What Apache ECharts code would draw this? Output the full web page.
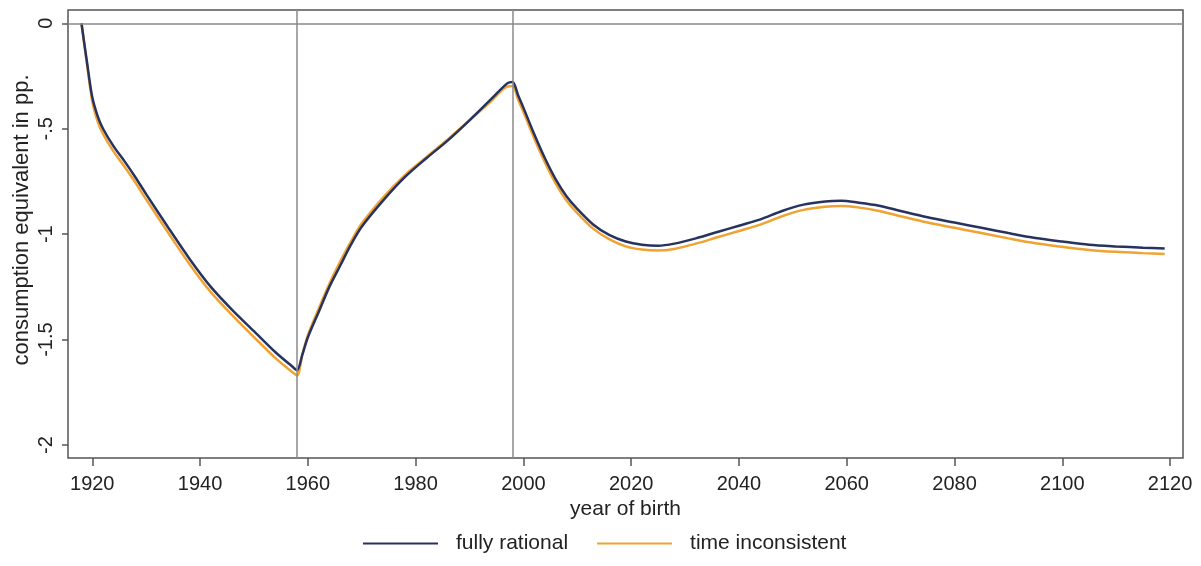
<!DOCTYPE html>
<html>
<head>
<meta charset="utf-8">
<script src="https://cdn.jsdelivr.net/npm/echarts@6/dist/echarts.min.js"></script>
<style>html,body{margin:0;padding:0;background:#fff;}#c{width:1201px;height:566px;}</style>
</head>
<body>
<div id="c"></div>
<script>
const years = [1918,1919,1920,1921,1922,1924,1926,1928,1930,1934,1938,1942,1946,1950,1954,1957,1958,
  1959,1960,1962,1964,1966,1968,1970,1974,1978,1982,1986,1990,1994,1997,1998,
  1999,2000,2002,2004,2006,2008,2010,2013,2016,2019,2022,2025,2028,2032,2036,2040,2044,2048,2052,2056,2059,2062,2066,2070,2075,2080,2085,2090,2095,2100,2105,2110,2115,2119];
const fullyRational = [0,-0.18,-0.35,-0.44,-0.50,-0.585,-0.655,-0.73,-0.81,-0.965,-1.115,-1.25,-1.36,-1.46,-1.56,-1.625,-1.645,
  -1.57,-1.49,-1.37,-1.25,-1.15,-1.05,-0.965,-0.84,-0.73,-0.64,-0.555,-0.46,-0.36,-0.285,-0.278,
  -0.34,-0.40,-0.525,-0.64,-0.74,-0.82,-0.88,-0.955,-1.005,-1.035,-1.05,-1.055,-1.045,-1.02,-0.99,-0.96,-0.93,-0.89,-0.86,-0.845,-0.842,-0.85,-0.865,-0.89,-0.92,-0.945,-0.97,-0.995,-1.018,-1.035,-1.05,-1.058,-1.064,-1.068];
const timeInconsistent = [0,-0.19,-0.37,-0.465,-0.525,-0.61,-0.68,-0.755,-0.835,-0.99,-1.14,-1.275,-1.385,-1.488,-1.588,-1.652,-1.67,
  -1.57,-1.48,-1.355,-1.235,-1.13,-1.035,-0.95,-0.825,-0.72,-0.635,-0.55,-0.46,-0.37,-0.30,-0.298,
  -0.36,-0.42,-0.545,-0.66,-0.76,-0.84,-0.90,-0.975,-1.025,-1.058,-1.073,-1.078,-1.07,-1.045,-1.015,-0.985,-0.955,-0.915,-0.885,-0.87,-0.867,-0.873,-0.89,-0.915,-0.945,-0.97,-0.995,-1.02,-1.043,-1.06,-1.075,-1.084,-1.09,-1.094];
const xTicks = [1920,1940,1960,1980,2000,2020,2040,2060,2080,2100,2120];
const yTicks = [0,-0.5,-1,-1.5,-2];
const yTickLabels = ["0","-.5","-1","-1.5","-2"];
const vLines = [1958,1998];

const FONT = 'Liberation Sans, Arial, sans-serif';
const chart = echarts.init(document.getElementById('c'));
chart.setOption({
  animation: false,
  backgroundColor: '#fff',
  grid: {left: 68, right: 18, top: 10, bottom: 108, show: true, borderColor: '#555', borderWidth: 1.5, backgroundColor: 'transparent'},
  xAxis: {
    type: 'value', min: 1915.5, max: 2122.4, position: 'bottom',
    name: 'year of birth', nameLocation: 'middle', nameGap: 39,
    nameTextStyle: {fontFamily: FONT, fontSize: 21, color: '#222'},
    axisLine: {show: false, onZero: false},
    splitLine: {show: false},
    axisTick: {show: true, length: 8, lineStyle: {color: '#555', width: 1.5}, customValues: xTicks},
    axisLabel: {fontFamily: FONT, fontSize: 20, color: '#222', margin: 16, customValues: xTicks, formatter: v => String(v)}
  },
  yAxis: {
    type: 'value', min: -2.0616, max: 0.063, position: 'left',
    axisLine: {show: false, onZero: false},
    splitLine: {show: false},
    axisTick: {show: true, length: 6, lineStyle: {color: '#555', width: 1.5}, customValues: yTicks},
    axisLabel: {fontFamily: FONT, fontSize: 20, color: '#222', margin: 12, rotate: 90, customValues: yTicks,
      formatter: v => { const i = yTicks.findIndex(t => Math.abs(t - v) < 1e-6); return i >= 0 ? yTickLabels[i] : ''; }}
  },
  graphic: [{
    type: 'text', x: 22, y: 220, rotation: Math.PI / 2,
    style: {text: 'consumption equivalent in pp.', font: '22px ' + FONT, fill: '#222', align: 'center', verticalAlign: 'middle'}
  }],
  legend: {
    left: 358, top: 528, itemWidth: 75, itemHeight: 2, itemGap: 29, icon: 'rect',
    textStyle: {fontFamily: FONT, fontSize: 21, color: '#222', padding: [0, 0, 0, 13]},
    data: ['fully rational', 'time inconsistent']
  },
  series: [
    {
      name: 'fully rational', type: 'line', showSymbol: false, symbol: 'none', smooth: 0.3,
      color: '#27335f', lineStyle: {width: 2.5, color: '#27335f'}, z: 3,
      data: years.map((y, i) => [y, fullyRational[i]]),
      markLine: {
        silent: true, symbol: 'none', label: {show: false},
        lineStyle: {color: '#8a8a8a', width: 1.5, type: 'solid'},
        data: [{yAxis: 0}].concat(vLines.map(v => ({xAxis: v})))
      }
    },
    {
      name: 'time inconsistent', type: 'line', showSymbol: false, symbol: 'none', smooth: 0.3,
      color: '#f0a232', lineStyle: {width: 2.5, color: '#f0a232'}, z: 2,
      data: years.map((y, i) => [y, timeInconsistent[i]])
    }
  ]
});
</script>
</body>
</html>
